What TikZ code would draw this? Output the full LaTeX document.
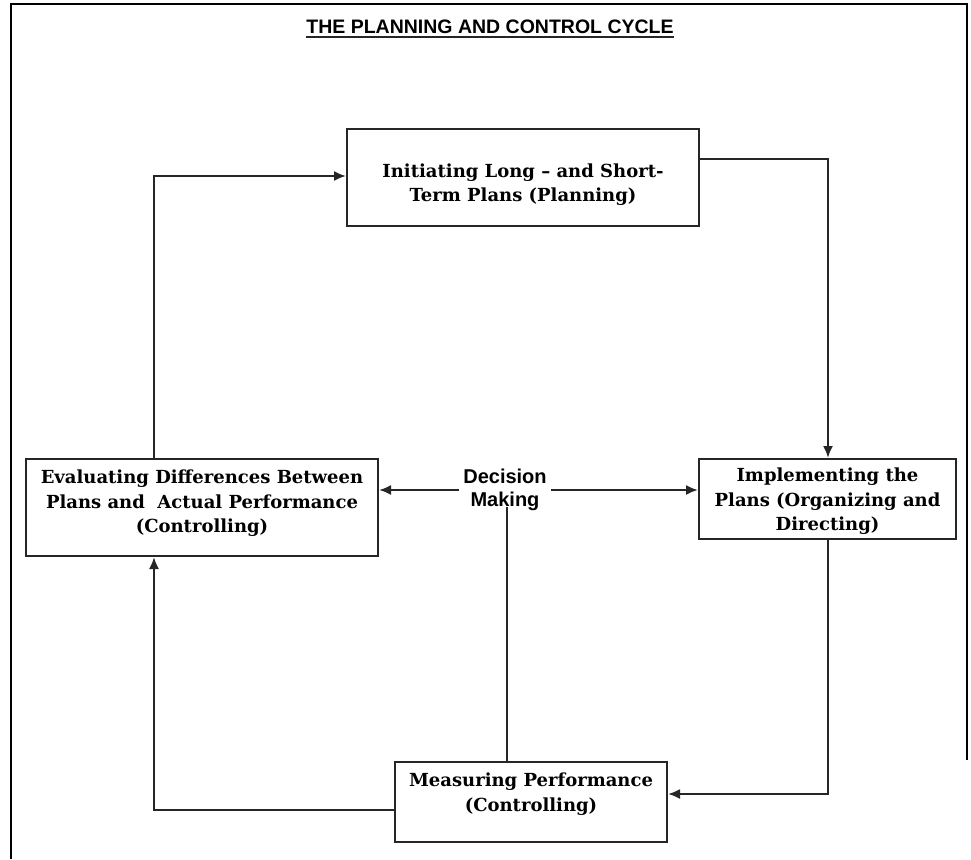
\documentclass[tikz,border=0pt]{standalone}
\usepackage{fontspec}
\usetikzlibrary{arrows.meta}
\newfontfamily\boxfont{DejaVu Serif}
\newfontfamily\sansfnt{Liberation Sans}
\begin{document}
\begin{tikzpicture}[x=1pt,y=-1pt,
  box/.style={draw=black!85, line width=2pt, inner sep=0pt},
  boxtext/.style={align=center, inner sep=0pt,
    font=\boxfont\bfseries\fontsize{18}{24.5}\selectfont},
  conn/.style={draw=black!85, line width=2pt},
  arr/.style={conn, -{Latex[length=12pt,width=10pt]}}]
\useasboundingbox (0,0) rectangle (971,859);
% frame
\draw[black, line width=2pt] (11,859) -- (11,4) -- (967,4) -- (967,760);
% title
\node[font=\sansfnt\bfseries\fontsize{19.5}{22}\selectfont, inner sep=0pt, anchor=base] (title) at (490,34) {THE PLANNING AND CONTROL CYCLE};
\draw[black!85, line width=2pt] (title.south west |- 0,37.5) -- (title.south east |- 0,37.5);
% boxes
\node[box, minimum width=352pt, minimum height=97pt] (plan) at (523,177.5) {};
\node[boxtext] (plant) at (523,184.5) {Initiating Long – and Short-\\Term Plans (Planning)};
\node[box, minimum width=352pt, minimum height=97pt] (eval) at (202,507.5) {};
\node[boxtext] (evalt) at (202,503.5) {Evaluating Differences Between\\Plans and\ \ Actual Performance\\(Controlling)};
\node[box, minimum width=257pt, minimum height=80pt] (impl) at (827.5,499) {};
\node[boxtext] (implt) at (827.5,501.5) {Implementing the\\Plans (Organizing and\\Directing)};
\node[box, minimum width=272pt, minimum height=80pt] (meas) at (531,802) {};
\node[boxtext] (meast) at (531,794) {Measuring Performance\\(Controlling)};
\node[font=\sansfnt\bfseries\fontsize{20}{23}\selectfont, align=center, inner sep=4pt] (dec) at (505,490) {Decision\\Making};
% helper coordinates
\coordinate (c1) at (154,176);
\coordinate (c2) at (828,159);
\coordinate (c3) at (828,794);
\coordinate (c4) at (154,810);
\coordinate (c5) at (0,490);
\coordinate (c6) at (507,507);
% connectors
\draw[arr] (eval.north -| c1) |- (plan.west |- c1);
\draw[arr] (plan.east |- c2) -| (impl.north -| c2);
\draw[arr] (impl.south -| c3) |- (meas.east |- c3);
\draw[arr] (meas.west |- c4) -| (eval.south -| c4);
\draw[arr] (dec.west |- c5) -- (eval.east |- c5);
\draw[arr] (dec.east |- c5) -- (impl.west |- c5);
\draw[conn] (meas.north -| c6) -- (c6);
\end{tikzpicture}
\end{document}
